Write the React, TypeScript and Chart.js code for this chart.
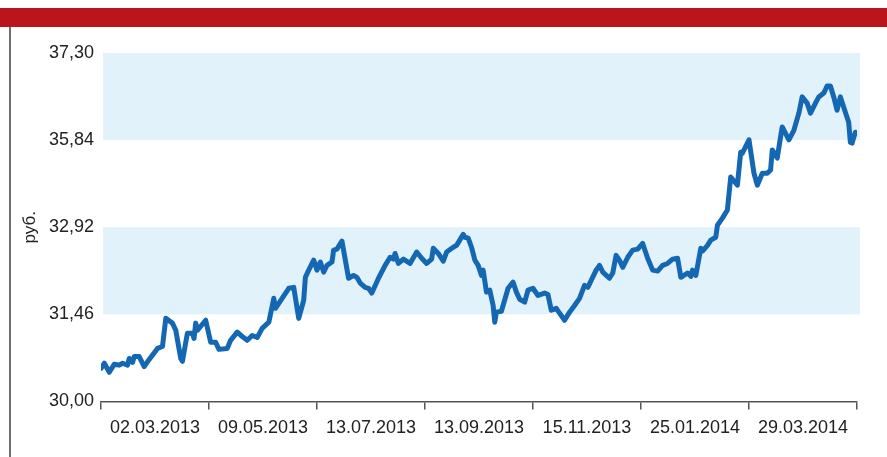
import React, { useEffect, useRef } from "react";
import { Chart, registerables } from "chart.js";

Chart.register(...registerables);

const dateLabels = ["02.03.2013", "09.05.2013", "13.07.2013", "13.09.2013", "15.11.2013", "25.01.2014", "29.03.2014"];
const yTickValues = [30, 31.825, 33.65, 35.475, 37.3];
const yTickLabels = ["30,00", "31,46", "32,92", "35,84", "37,30"];
const yUnit = "руб.";

const days = [
  0, 2, 5, 8, 11, 13, 16, 17, 19, 20, 23, 26, 29, 34, 37, 39, 43, 45, 48, 49,
  52, 55, 56, 57, 58, 63, 66, 69, 71, 76, 78, 82, 85, 88, 91, 94, 97, 101, 104, 105,
  109, 113, 116, 119, 122, 123, 125, 128, 130, 132, 134, 136, 139, 140, 142, 145, 149, 152, 154, 156,
  159, 161, 163, 167, 171, 174, 176, 177, 179, 182, 186, 190, 193, 196, 199, 200, 203, 206, 208, 212,
  214, 218, 219, 221, 223, 225, 227, 229, 230, 232, 234, 236, 237, 238, 241, 245, 248, 250, 252, 255,
  257, 260, 263, 267, 269, 271, 274, 276, 279, 282, 285, 288, 291, 293, 298, 300, 302, 306, 308, 310,
  312, 314, 317, 320, 323, 326, 329, 332, 335, 338, 341, 344, 347, 349, 353, 355, 356, 358, 361, 362,
  365, 367, 370, 371, 374, 377, 379, 380, 383, 385, 386, 390, 393, 395, 398, 401, 403, 404, 407, 409,
  410, 414, 417, 420, 422, 425, 427, 430, 432, 435, 437, 439, 441, 443, 445, 448, 450, 451, 452, 454, 455,
];

const prices = [
  30.69, 30.80, 30.61, 30.78, 30.76, 30.80, 30.76, 30.90, 30.82, 30.94, 30.94, 30.73, 30.88, 31.11, 31.15, 31.74, 31.64, 31.49, 30.90, 30.84,
  31.43, 31.43, 31.32, 31.64, 31.49, 31.70, 31.24, 31.24, 31.09, 31.11, 31.28, 31.45, 31.36, 31.28, 31.38, 31.34, 31.53, 31.66, 32.16, 31.95,
  32.16, 32.37, 32.39, 31.74, 32.12, 32.60, 32.75, 32.96, 32.75, 32.92, 32.71, 32.85, 32.92, 33.17, 33.19, 33.36, 32.58, 32.64, 32.60, 32.48,
  32.39, 32.37, 32.27, 32.58, 32.85, 33.02, 32.98, 33.10, 32.89, 32.98, 32.89, 33.13, 33.00, 32.89, 32.98, 33.21, 33.10, 32.94, 33.13, 33.23,
  33.27, 33.50, 33.44, 33.42, 33.23, 32.96, 32.85, 32.64, 32.75, 32.29, 32.33, 32.01, 31.66, 31.87, 31.89, 32.37, 32.50, 32.29, 32.14, 32.08,
  32.33, 32.37, 32.22, 32.27, 32.24, 31.91, 31.95, 31.85, 31.70, 31.87, 32.01, 32.16, 32.43, 32.39, 32.75, 32.85, 32.71, 32.58, 32.69, 33.06,
  32.96, 32.81, 33.02, 33.17, 33.19, 33.31, 33.00, 32.75, 32.73, 32.85, 32.89, 32.98, 33.00, 32.60, 32.69, 32.62, 32.75, 32.64, 33.21, 33.15,
  33.27, 33.38, 33.44, 33.69, 33.84, 34.01, 34.70, 34.66, 34.53, 35.22, 35.20, 35.48, 34.78, 34.53, 34.78, 34.78, 34.85, 35.27, 35.10, 35.54,
  35.75, 35.48, 35.68, 36.04, 36.38, 36.25, 36.04, 36.25, 36.38, 36.46, 36.61, 36.61, 36.38, 36.10, 36.38, 36.06, 35.85, 35.43, 35.41, 35.64, 35.62,
];

const FONT = "'Liberation Sans', Arial, Helvetica, sans-serif";

const bandsPlugin = {
  id: "bands",
  beforeDatasetsDraw(chart: any) {
    const { ctx, chartArea, scales } = chart;
    const y = scales.y;
    ctx.save();
    ctx.fillStyle = "#E1F2FB";
    const pairs = [[1, 2], [3, 4]];
    for (const [a, b] of pairs) {
      const top = y.getPixelForValue(yTickValues[b]);
      const bottom = y.getPixelForValue(yTickValues[a]);
      ctx.fillRect(chartArea.left + 2, top, chartArea.right - chartArea.left + 1, bottom - top);
    }
    ctx.restore();
  },
};

export default function App() {
  const canvasRef = useRef<HTMLCanvasElement | null>(null);

  useEffect(() => {
    if (!canvasRef.current) return;
    const chart = new Chart(canvasRef.current, {
      type: "line",
      data: {
        labels: dateLabels,
        datasets: [
          {
            data: days.map((d, i) => ({ x: d, y: prices[i] })),
            xAxisID: "x2",
            yAxisID: "y",
            borderColor: "#1467B3",
            borderWidth: 5,
            pointRadius: 0,
            tension: 0,
            borderJoinStyle: "round",
            borderCapStyle: "round",
          },
        ],
      },
      options: {
        animation: false,
        responsive: false,
        maintainAspectRatio: false,
        layout: { padding: { left: 20, top: 26, right: 30, bottom: 10 } },
        plugins: { legend: { display: false }, tooltip: { enabled: false } },
        scales: {
          x: {
            type: "category",
            offset: true,
            grid: {
              display: true,
              offset: true,
              drawOnChartArea: false,
              drawTicks: true,
              tickLength: 8,
              color: "#555555",
              lineWidth: 1.5,
            },
            border: { display: true, color: "#555555", width: 1.5 },
            ticks: {
              color: "#222222",
              font: { family: FONT, size: 18 },
              padding: 8,
              maxRotation: 0,
              autoSkip: false,
            },
          },
          x2: {
            type: "linear",
            display: false,
            min: 0,
            max: 455,
          },
          y: {
            type: "linear",
            min: 30,
            max: 37.3,
            afterBuildTicks: (scale: any) => {
              scale.ticks = yTickValues.map((v) => ({ value: v }));
            },
            afterFit: (scale: any) => {
              scale.width = 81;
            },
            grid: { display: false },
            border: { display: false },
            ticks: {
              color: "#222222",
              font: { family: FONT, size: 18 },
              padding: -1,
              callback: (_v: any, i: number) => yTickLabels[i],
            },
            title: {
              display: true,
              text: yUnit,
              color: "#222222",
              font: { family: FONT, size: 17 },
              padding: { top: 0, bottom: 0 },
            },
          },
        },
      },
      plugins: [bandsPlugin],
    });
    return () => chart.destroy();
  }, []);

  return (
    <div style={{ position: "fixed", left: 0, top: 0, width: 887, height: 457, background: "#ffffff", overflow: "hidden" }}>
      <div style={{ position: "absolute", left: 0, top: 8, width: 887, height: 19, background: "#B8151D" }} />
      <div style={{ position: "absolute", left: 9, top: 27, width: 2, height: 430, background: "#6E6E6E" }} />
      <canvas ref={canvasRef} width={887} height={430} style={{ position: "absolute", left: 0, top: 27, width: 887, height: 430 }} />
    </div>
  );
}
